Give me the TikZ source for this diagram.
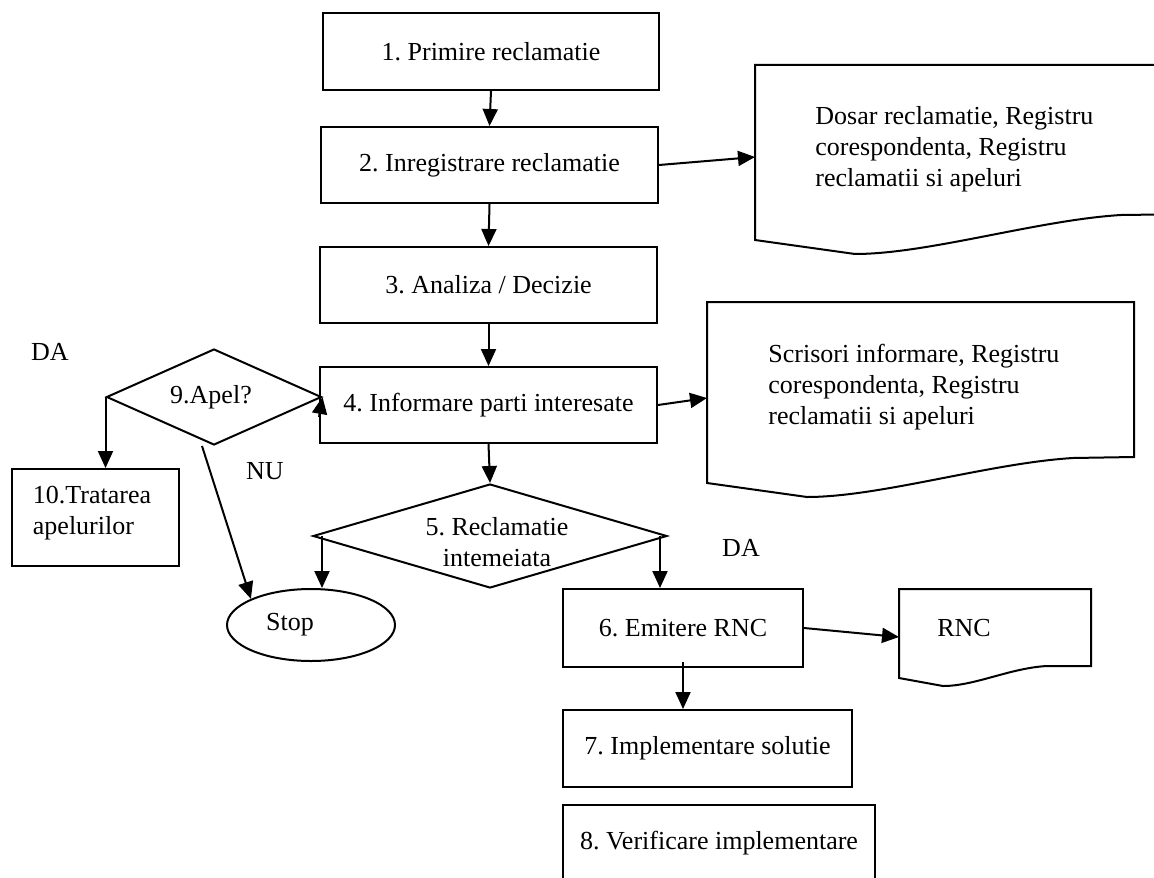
\documentclass[tikz,border=0pt]{standalone}
\usepackage{fontspec}
\setmainfont{Liberation Serif}
\usetikzlibrary{arrows.meta,shapes.geometric}
\frenchspacing
\begin{document}
\begin{tikzpicture}[x=0.5pt,y=-0.5pt,
  every node/.style={font=\fontsize{13pt}{15.5pt}\selectfont},
  box/.style={draw,line width=1pt,inner sep=0pt,align=center},
  dia/.style={draw,diamond,line width=1pt,inner sep=0pt},
  oval/.style={draw,ellipse,line width=1pt,inner sep=0pt},
  plain/.style={inner sep=0pt,align=left},
  arr/.style={line width=1pt,-{Triangle[length=8.5pt,width=7.5pt]}},
  docshape/.style={line width=1pt},
]
\useasboundingbox (0,0) rectangle (1154,877);
\clip (0,0) rectangle (1154,877);

% process boxes
\node[box,minimum width=168pt,minimum height=38.5pt] (b1) at (491,51.5) {1. Primire reclamatie};
\node[box,minimum width=168.5pt,minimum height=38pt] (b2) at (489.5,165) {2. Inregistrare reclamatie};
\node[box,minimum width=168.5pt,minimum height=38pt] (b3) at (488.5,285) {3. Analiza / Decizie};
\node[box,minimum width=168.5pt,minimum height=38pt] (b4) at (488.5,405) {4. Informare parti interesate};
\node[box,minimum width=120pt,minimum height=39pt] (b6) at (683,628) {6. Emitere RNC};
\node[box,minimum width=144.5pt,minimum height=38.5pt] (b7) at (707.5,748.5) {7. Implementare solutie};
\node[box,minimum width=156pt,minimum height=38.5pt] (b8) at (719,843.5) {8. Verificare implementare};
\node[box,minimum width=83.5pt,minimum height=48.5pt] (b10) at (95.5,517.5) {};
\node[plain] (b10t) at (92,513) {10.Tratarea\\apelurilor};

% decisions
\node[dia,minimum width=107.5pt,minimum height=48pt] (d9) at (214,397) {};
\node[plain] (d9t) at (211,397) {9.Apel?};
\node[dia,minimum width=177pt,minimum height=52pt] (d5) at (490,536) {};
\node[plain,align=center] (d5t) at (497,542) {5. Reclamatie\\intemeiata};

% terminator
\node[oval,minimum width=84pt,minimum height=36pt] (stop) at (311,625) {};
\node[plain] (stopt) at (290,625) {Stop};

% documents
\draw[docshape] (755,240) -- (755,65) -- (1200,65) -- (1200,214) -- (1121,215)
  .. controls (1038,220) and (928,254) .. (855,254) -- cycle;
\node[plain] (doc1) at (815,149) [anchor=west] {Dosar reclamatie, Registru\\corespondenta, Registru\\reclamatii si apeluri};
\coordinate (doc1in) at (755,157);

\draw[docshape] (707,483) -- (707,302) -- (1134,302) -- (1134,457) -- (1073,458)
  .. controls (990,463) and (880,497) .. (807,497) -- cycle;
\node[plain] (doc2) at (768,387) [anchor=west] {Scrisori informare, Registru\\corespondenta, Registru\\reclamatii si apeluri};
\coordinate (doc2in) at (707,398);

\draw[docshape] (899,678) -- (899,589) -- (1091,589) -- (1091,666) -- (1047,666)
  .. controls (1010,668) and (975,686) .. (943,686) -- cycle;
\node[plain] (rnc) at (964,628) {RNC};
\coordinate (rncin) at (899,637);

% labels
\node[plain] (da1) at (50,352) {DA};
\node[plain] (nu) at (265,471) {NU};
\node[plain] (da2) at (741,548) {DA};

% connectors
\draw[arr] (b1.south) -- (b2.north);
\draw[arr] (b2.south) -- (b3.north);
\draw[arr] (b3.south) -- (b4.north);
\draw[arr] (b4.south) -- (d5.north);
\draw[arr] (b2.east) -- (doc1in);
\draw[arr] (b4.east) -- (doc2in);
\draw[arr] ([yshift=-6pt]b4.west) -- (d9.east);
\draw[arr] (d9.west) -- (d9.west |- b10.north);
\draw[arr] ([xshift=-6pt]d9.south) -- (stop.north west);
\draw[arr] ([xshift=5pt]d5.west) -- ([xshift=5pt]d5.west |- stop.north);
\draw[arr] ([xshift=-4pt]d5.east) -- ([xshift=-4pt]d5.east |- b6.north);
\draw[arr] (b6.east) -- (rncin);
\draw[arr] ([yshift=3pt]b6.south) -- (b6.south |- b7.north);
\end{tikzpicture}
\end{document}
